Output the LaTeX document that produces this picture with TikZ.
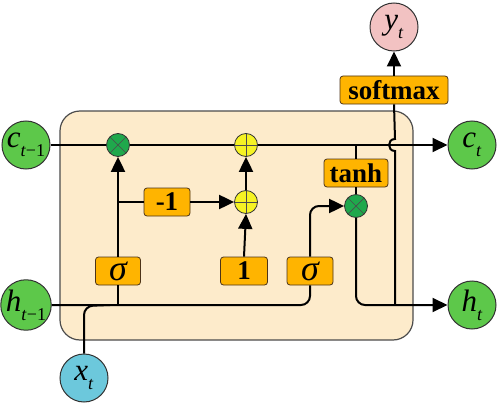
\documentclass[tikz,border=0pt]{standalone}
\usepackage{fontspec}
\setmainfont{Liberation Serif}
\usetikzlibrary{arrows.meta}
\definecolor{cellbg}{HTML}{FDEBCB}
\definecolor{vgreen}{HTML}{5DC84A}
\definecolor{mulgreen}{HTML}{1FA84C}
\definecolor{plusyellow}{HTML}{F6F324}
\definecolor{gateorange}{HTML}{FFB400}
\definecolor{ypink}{HTML}{F2C2C2}
\definecolor{xblue}{HTML}{6CC8DC}
\newcommand\vsub[2]{\textit{#1}\raisebox{-0.3em}{\fontsize{18}{18}\selectfont #2}}
\newcommand\sig{{\mdseries\itshape\fontsize{36}{36}\selectfont σ}}
\begin{document}
\begin{tikzpicture}[x=1pt,y=-1pt,
  var/.style={circle, draw=black!80, line width=1pt, minimum size=48pt, inner sep=0pt, font=\fontsize{31}{31}\selectfont},
  op/.style={circle, draw=black!80, line width=0.8pt, minimum size=23pt, inner sep=0pt},
  mul/.style={op, fill=mulgreen, path picture={\draw[line width=0.7pt, black!70] (path picture bounding box.center) ++(45:11.5pt) -- ++(225:23pt); \draw[line width=0.7pt, black!70] (path picture bounding box.center) ++(135:11.5pt) -- ++(315:23pt);}},
  plus/.style={op, fill=plusyellow, path picture={\draw[line width=0.7pt, black!70] (path picture bounding box.center) ++(0:11.5pt) -- ++(180:23pt); \draw[line width=0.7pt, black!70] (path picture bounding box.center) ++(90:11.5pt) -- ++(270:23pt);}},
  gate/.style={rectangle, rounded corners=3pt, draw=black!60!brown, fill=gateorange, line width=0.8pt, font=\bfseries\fontsize{27}{27}\selectfont, inner sep=0pt, minimum height=28pt},
  conn/.style={line width=2pt, black},
  arr/.style={conn, -{Triangle[length=15pt,width=14pt]}}
]
\useasboundingbox (0,0) rectangle (498,404);
\draw[fill=cellbg, draw=black!70, line width=1.2pt, rounded corners=20pt] (60,111) rectangle (413,340);

% variable nodes
\node[var, fill=vgreen] (cp) at (26,145) {\vsub{c}{\textit{t}−1}};
\node[var, fill=vgreen] (ct) at (472,145) {\vsub{c}{\textit{t}}};
\node[var, fill=vgreen] (hp) at (26,305) {\vsub{h}{\textit{t}−1}};
\node[var, fill=vgreen] (ht) at (472,305) {\vsub{h}{\textit{t}}};
\node[var, fill=ypink] (yt) at (394,27) {\vsub{y}{\textit{t}}};
\node[var, fill=xblue] (xt) at (84,378) {\vsub{x}{\textit{t}}};

% operators
\node[mul] (m1) at (118,145) {};
\node[plus] (p1) at (246,145) {};
\node[plus] (p2) at (246,202) {};
\node[mul] (m2) at (356,206) {};

% gates
\node[gate, minimum width=45pt] (s1) at (118,271) {\sig};
\node[gate, minimum width=46pt] (neg) at (167,202) {-1};
\node[gate, minimum width=47pt] (one) at (244,271) {1};
\node[gate, minimum width=46pt] (s2) at (310,271) {\sig};
\node[gate, minimum width=64pt] (th) at (356,173) {tanh};
\node[gate, minimum width=108pt] (sm) at (394,90) {softmax};

% helper coordinates
\coordinate (c1) at (118,305);
\coordinate (c2) at (118,202);
\coordinate (c3) at (356,145);
\coordinate (c4) at (395,305);
\coordinate (hj) at (110,305);

% cell state line
\draw[conn] (cp.east) -- (m1.west);
\draw[conn] (m1.east) -- (p1.west);
\draw[arr] (p1.east) -- (ct.west);

% forget gate
\draw[arr] (s1.north) -- (m1.south);
\draw[conn] (c1) -- (s1.south);
\draw[conn] (c2) -- (neg.west);
\draw[arr] (neg.east) -- (p2.west);
\draw[arr] (one.north) -- (p2.south);
\draw[arr] (p2.north) -- (p1.south);

% hidden input line
\draw[conn, rounded corners=9pt] (hp.east) -- (310,305) -- (s2.south);
\draw[conn, rounded corners=9pt] (xt.north) -- (84,306) -- (hj);
\draw[arr, rounded corners=9pt] (s2.north) -- (310,206) -- (m2.west);

% tanh and output
\draw[conn] (c3) -- (th.north);
\draw[conn] (th.south) -- (m2.north);
\draw[arr, rounded corners=9pt] (m2.south) -- (356,305) -- (ht.west);
\draw[conn] (c4) -- (395,151) .. controls (387,151) and (387,139) .. (395,139) -- (sm.south);
\draw[arr] (sm.north) -- (yt.south);
\end{tikzpicture}
\end{document}
